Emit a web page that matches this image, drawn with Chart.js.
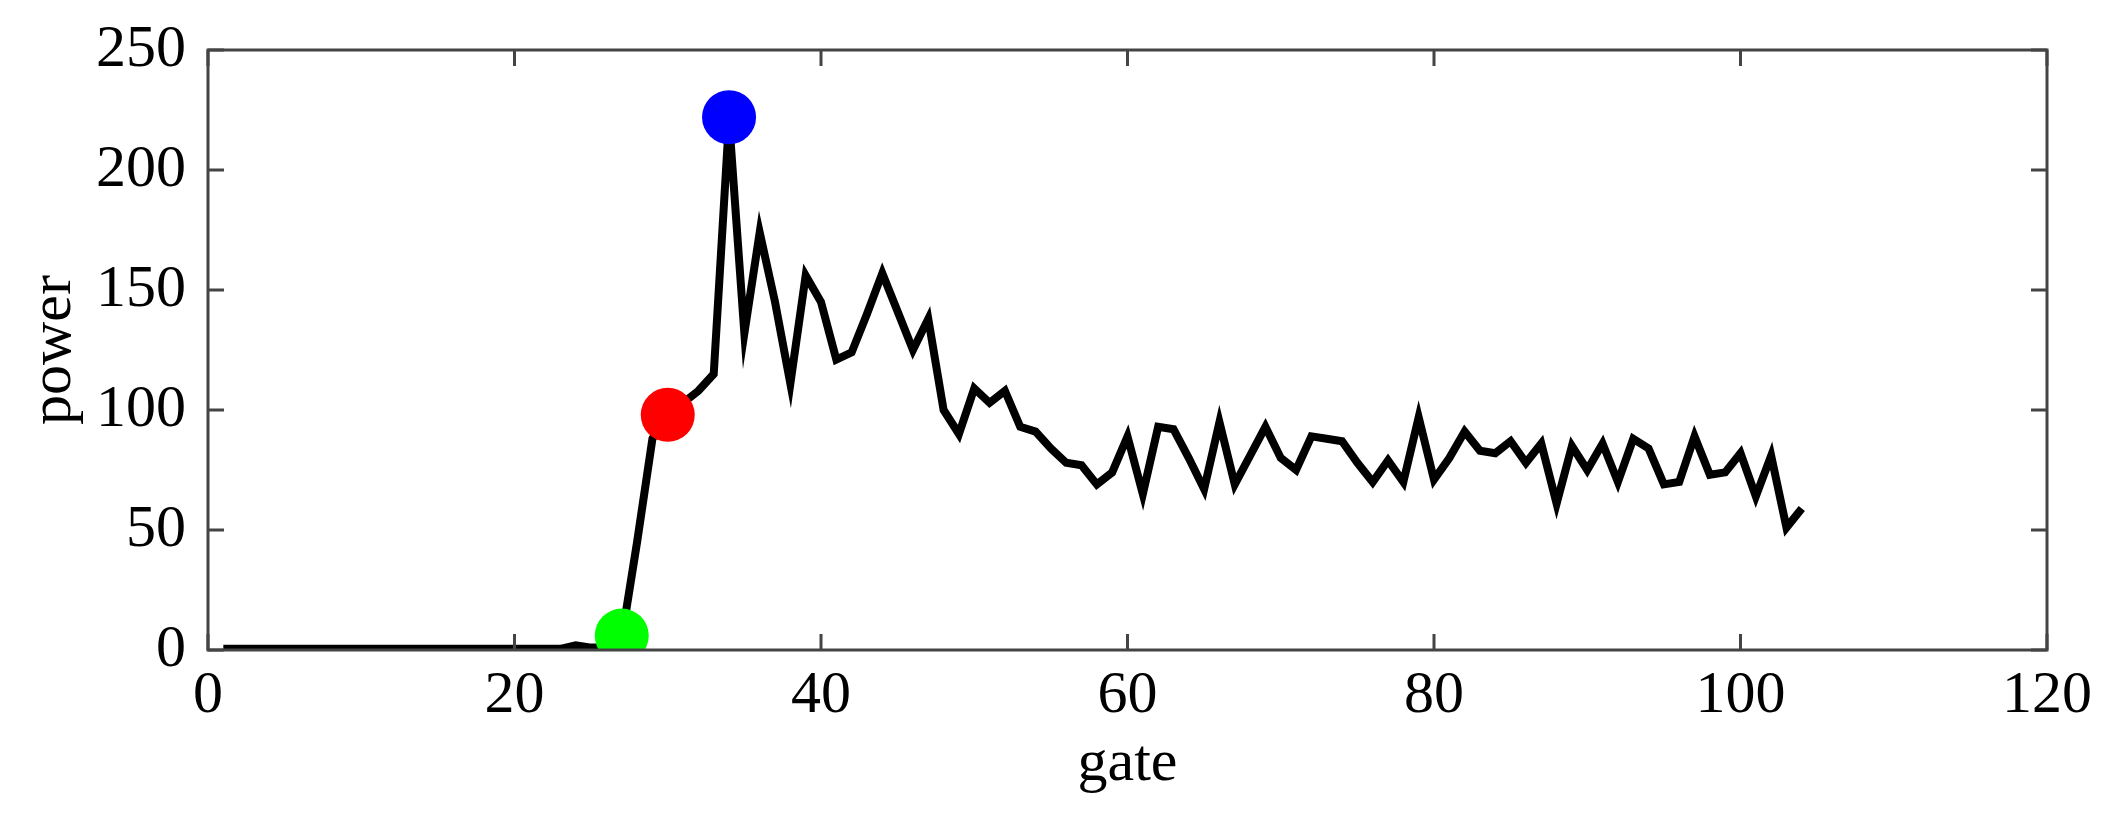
<!DOCTYPE html>
<html><head><meta charset="utf-8">
<script src="https://cdn.jsdelivr.net/npm/chart.js@4/dist/chart.umd.min.js"></script>
<style>html,body{margin:0;padding:0;background:#fff}#w{width:2105px;height:835px}</style>
</head><body><div id="w"><canvas id="c"></canvas></div>
<script>
const gates = Array.from({length:104},(_,i)=>i+1);
const power = [0.5,0.5,0.5,0.5,0.5,0.5,0.5,0.5,0.5,0.5,0.5,0.5,0.5,0.5,0.5,0.5,0.5,0.5,0.5,0.5,0.5,0.5,0.5,2,1,1,5,45,88,98,103,108,115,221,132,174,145,111,156,145,121,124,140,157,141,125,138,100,90,109,103,108,93,91,84,78,77,69,74,89,65,93,92,80,67,95,69,81,93,80,75,89,88,87,78,70,79,70,97,71,80,91,83,82,87,78,86,61,85,75,86,70,88,84,69,70,89,73,74,82,64,81,51,59];
const markerGates = [27,30,34];
const markerPower = [6,98,222];
const markerColors = ['#00ff00','#ff0000','#0000ff'];
const xTicks = [0,20,40,60,80,100,120];
const yTicks = [0,50,100,150,200,250];

const frame = {id:'frame',afterDraw(ch){
  const a=ch.chartArea,c=ch.ctx,xs=ch.scales.x,ys=ch.scales.y;
  c.save();c.strokeStyle='#444';c.lineWidth=3;
  c.strokeRect(a.left,a.top,a.right-a.left,a.bottom-a.top);
  xTicks.forEach(v=>{const p=xs.getPixelForValue(v);c.beginPath();c.moveTo(p,a.bottom);c.lineTo(p,a.bottom-16);c.moveTo(p,a.top);c.lineTo(p,a.top+16);c.stroke();});
  yTicks.forEach(v=>{const p=ys.getPixelForValue(v);c.beginPath();c.moveTo(a.left,p);c.lineTo(a.left+16,p);c.moveTo(a.right,p);c.lineTo(a.right-16,p);c.stroke();});
  c.restore();}};

new Chart(document.getElementById('c'),{
  type:'line',
  data:{datasets:[
    {data:markerGates.map((g,i)=>({x:g,y:markerPower[i]})),showLine:false,pointRadius:27,pointBackgroundColor:markerColors,pointBorderWidth:0,order:0},
    {data:gates.map((g,i)=>({x:g,y:power[i]})),borderColor:'#000',borderWidth:8,pointRadius:0,tension:0,order:1}
  ]},
  options:{responsive:true,maintainAspectRatio:false,animation:false,
    layout:{padding:{left:0,right:58,top:44,bottom:35}},
    plugins:{legend:{display:false},tooltip:{enabled:false}},
    scales:{
      x:{type:'linear',min:0,max:120,afterBuildTicks(s){s.ticks=xTicks.map(v=>({value:v}));},
        afterFit(s){s.height=150;},
        grid:{display:false},border:{display:false},
        ticks:{color:'#000',font:{family:'Liberation Serif',size:60},padding:2,maxRotation:0},
        title:{display:true,text:'gate',color:'#000',font:{family:'Liberation Serif',size:60},padding:{top:0,bottom:0}}},
      y:{min:0,max:250,afterBuildTicks(s){s.ticks=yTicks.map(v=>({value:v}));},
        afterFit(s){s.width=208;},
        grid:{display:false},border:{display:false},
        ticks:{color:'#000',font:{family:'Liberation Serif',size:60},padding:14},
        title:{display:true,text:'power',color:'#000',font:{family:'Liberation Serif',size:60},padding:{top:18,bottom:0}}}
    }},
  plugins:[frame]
});
</script></body></html>
